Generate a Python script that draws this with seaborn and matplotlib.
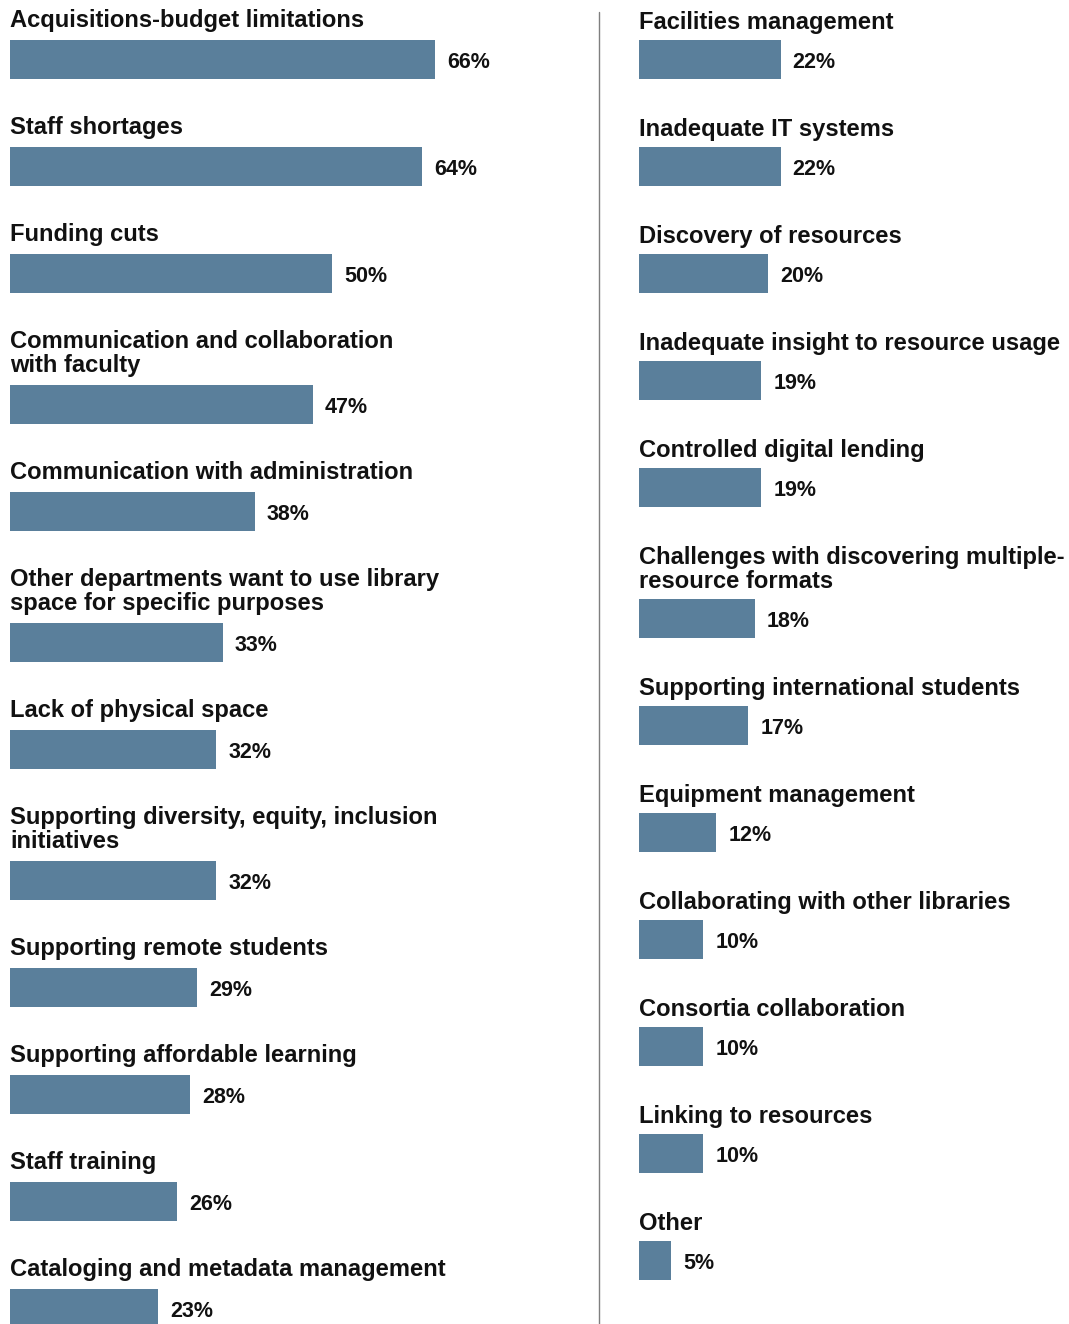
import matplotlib
matplotlib.use("Agg")
import matplotlib.pyplot as plt
from matplotlib.lines import Line2D
import seaborn as sns
import pandas as pd

# Survey responses: share of libraries naming each challenge
left_labels = [
    "Acquisitions-budget limitations",
    "Staff shortages",
    "Funding cuts",
    "Communication and collaboration\nwith faculty",
    "Communication with administration",
    "Other departments want to use library\nspace for specific purposes",
    "Lack of physical space",
    "Supporting diversity, equity, inclusion\ninitiatives",
    "Supporting remote students",
    "Supporting affordable learning",
    "Staff training",
    "Cataloging and metadata management",
]
left_values = [66, 64, 50, 47, 38, 33, 32, 32, 29, 28, 26, 23]

right_labels = [
    "Facilities management",
    "Inadequate IT systems",
    "Discovery of resources",
    "Inadequate insight to resource usage",
    "Controlled digital lending",
    "Challenges with discovering multiple-\nresource formats",
    "Supporting international students",
    "Equipment management",
    "Collaborating with other libraries",
    "Consortia collaboration",
    "Linking to resources",
    "Other",
]
right_values = [22, 22, 20, 19, 19, 18, 17, 12, 10, 10, 10, 5]

BAR_COLOR = "#5a7f9b"
FIG_W, FIG_H = 1069, 1324      # canvas in pixels
PX_PER_PCT = 6.44              # horizontal scale, pixels per percent
FIRST_TOP = 40                 # top edge of the first bar
PITCH = 107                    # vertical distance between single-line rows
LINE_STEP = 24                 # extra height per additional label line
BAR_H = 39

sns.set_theme(style="white")
plt.rcParams["font.family"] = ["Liberation Sans", "DejaVu Sans"]

fig = plt.figure(figsize=(FIG_W / 100, FIG_H / 100), dpi=100)
fig.patch.set_facecolor("white")


def row_tops(labels):
    tops, y = [], FIRST_TOP
    for i, lab in enumerate(labels):
        extra = lab.count("\n")
        if i > 0:
            y += PITCH + LINE_STEP * extra
        tops.append(y)
    return tops


def draw_column(left_px, width_px, labels, values, label_gap):
    ax = fig.add_axes([left_px / FIG_W, 0, width_px / FIG_W, 1])
    tops = row_tops(labels)
    centers = [t + BAR_H / 2 for t in tops]
    df = pd.DataFrame({"label": labels, "value": values, "center": centers})
    sns.barplot(
        data=df, x="value", y="center", orient="y", native_scale=True,
        width=BAR_H / PITCH, color=BAR_COLOR, saturation=1,
        linewidth=0, ax=ax,
    )
    ax.set_xlim(0, width_px / PX_PER_PCT)
    ax.set_ylim(FIG_H, 0)
    ax.set_axis_off()

    for lab, val, top in zip(labels, values, tops):
        lines = lab.split("\n")
        n = len(lines)
        for k, line in enumerate(lines):
            base = top - label_gap - LINE_STEP * (n - 1 - k)
            ax.text(0, base, line, ha="left", va="baseline",
                    fontsize=17.1, fontweight="bold", color="#111111")
        ax.text(val + 12 / PX_PER_PCT, top + 28, f"{val}%",
                ha="left", va="baseline", fontsize=15.5,
                fontweight="bold", color="#111111")
    return ax


draw_column(10, 560, left_labels, left_values, label_gap=13)
draw_column(639, 430, right_labels, right_values, label_gap=11)

# vertical divider between the two columns
fig.add_artist(Line2D([599 / FIG_W, 599 / FIG_W], [0, 1 - 12 / FIG_H],
                      transform=fig.transFigure, color="#7f7f7f", lw=1.0))

fig.savefig("out.png", dpi=100, facecolor="white")
